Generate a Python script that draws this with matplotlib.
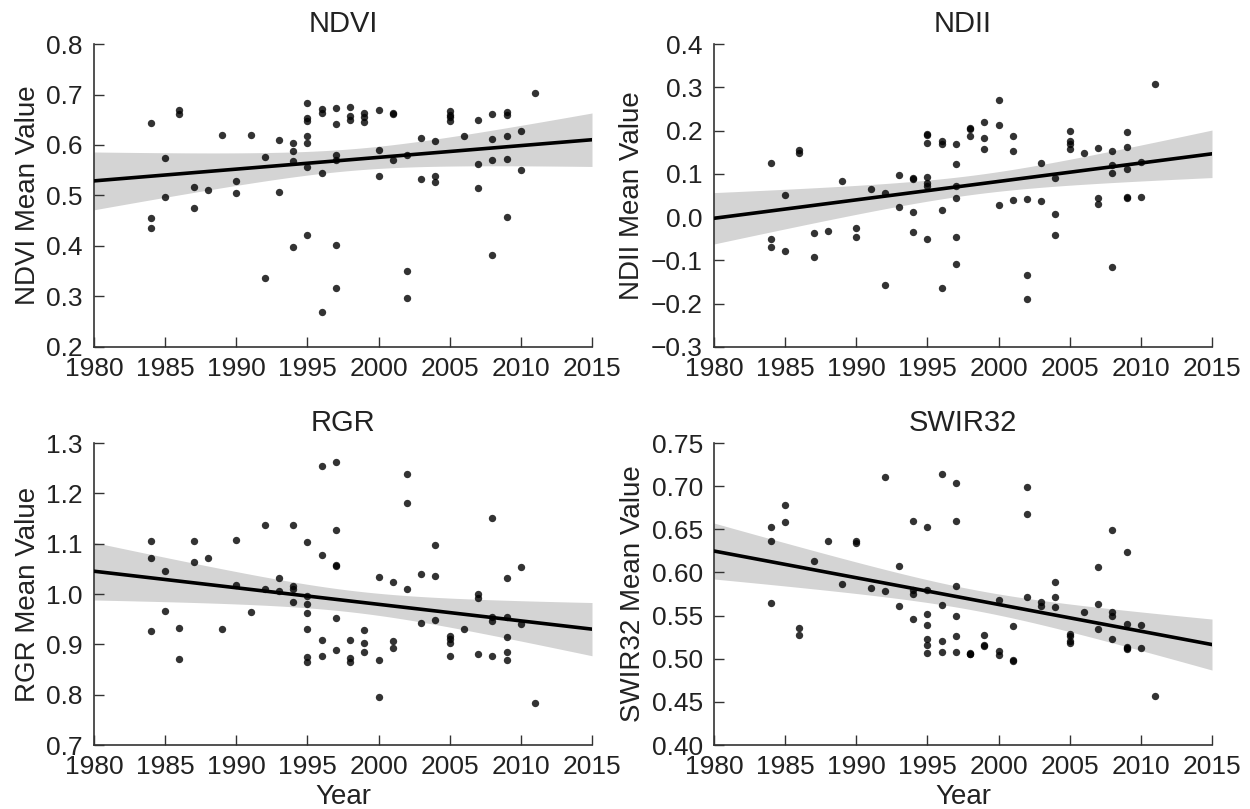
import numpy as np
import matplotlib
matplotlib.use("Agg")
import matplotlib.pyplot as plt

plt.rcParams['font.family'] = ['Liberation Sans', 'DejaVu Sans']

ndvi = {
    1984: [0.644, 0.456, 0.436], 1985: [0.575, 0.497], 1986: [0.669, 0.661],
    1987: [0.517, 0.476], 1988: [0.510], 1989: [0.620], 1990: [0.528, 0.504],
    1991: [0.620], 1992: [0.576, 0.337], 1993: [0.609, 0.506],
    1994: [0.603, 0.589, 0.569, 0.398],
    1995: [0.683, 0.653, 0.648, 0.617, 0.604, 0.557, 0.421],
    1996: [0.671, 0.663, 0.544, 0.270],
    1997: [0.673, 0.642, 0.580, 0.570, 0.401, 0.316],
    1998: [0.675, 0.658, 0.650], 1999: [0.663, 0.655, 0.646],
    2000: [0.670, 0.591, 0.539], 2001: [0.664, 0.661, 0.571],
    2002: [0.581, 0.350, 0.297], 2003: [0.613, 0.533], 2004: [0.607, 0.538, 0.526],
    2005: [0.667, 0.659, 0.655, 0.648], 2006: [0.618], 2007: [0.649, 0.563, 0.515],
    2008: [0.662, 0.611, 0.570, 0.382], 2009: [0.665, 0.659, 0.618, 0.572, 0.458],
    2010: [0.628, 0.551], 2011: [0.702],
}

ndii = {
    1984: [0.126, -0.051, -0.068], 1985: [0.050, -0.078], 1986: [0.156, 0.149],
    1987: [-0.037, -0.092], 1988: [-0.032], 1989: [0.083], 1990: [-0.026, -0.046],
    1991: [0.064], 1992: [0.055, -0.157], 1993: [0.098, 0.024],
    1994: [0.090, 0.088, 0.011, -0.035],
    1995: [0.193, 0.189, 0.172, 0.093, 0.078, 0.071, -0.050],
    1996: [0.177, 0.170, 0.017, -0.164],
    1997: [0.169, 0.122, 0.072, 0.044, -0.047, -0.108],
    1998: [0.206, 0.203, 0.187], 1999: [0.220, 0.183, 0.157],
    2000: [0.270, 0.213, 0.028], 2001: [0.188, 0.153, 0.040],
    2002: [0.041, -0.133, -0.190], 2003: [0.125, 0.037], 2004: [0.091, 0.008, -0.042],
    2005: [0.199, 0.177, 0.169, 0.158], 2006: [0.148], 2007: [0.160, 0.044, 0.030],
    2008: [0.153, 0.121, 0.103, -0.115], 2009: [0.197, 0.161, 0.112, 0.046, 0.044],
    2010: [0.128, 0.047], 2011: [0.308],
}

rgr = {
    1984: [1.105, 1.072, 0.927], 1985: [1.045, 0.966], 1986: [0.932, 0.871],
    1987: [1.106, 1.064], 1988: [1.071], 1989: [0.930], 1990: [1.107, 1.017],
    1991: [0.964], 1992: [1.138, 1.009], 1993: [1.032, 1.005],
    1994: [1.138, 1.015, 1.009, 0.985],
    1995: [1.103, 0.996, 0.981, 0.963, 0.930, 0.874, 0.864],
    1996: [1.254, 1.078, 0.908, 0.876],
    1997: [1.262, 1.128, 1.058, 1.056, 0.952, 0.889],
    1998: [0.909, 0.872, 0.864], 1999: [0.928, 0.903, 0.885],
    2000: [1.033, 0.868, 0.796], 2001: [1.023, 0.906, 0.893],
    2002: [1.238, 1.181, 1.010], 2003: [1.039, 0.943], 2004: [1.098, 1.035, 0.948],
    2005: [0.917, 0.910, 0.903, 0.877], 2006: [0.930], 2007: [1.000, 0.992, 0.881],
    2008: [1.152, 0.954, 0.946, 0.877], 2009: [1.032, 0.954, 0.914, 0.885, 0.869],
    2010: [1.053, 0.941], 2011: [0.783],
}

swir32 = {
    1984: [0.653, 0.637, 0.564], 1985: [0.678, 0.658], 1986: [0.536, 0.528],
    1987: [0.613], 1988: [0.636], 1989: [0.587], 1990: [0.636, 0.634],
    1991: [0.582], 1992: [0.711, 0.578], 1993: [0.608, 0.561],
    1994: [0.660, 0.580, 0.575, 0.546],
    1995: [0.653, 0.580, 0.552, 0.539, 0.523, 0.516, 0.507],
    1996: [0.714, 0.562, 0.520, 0.508],
    1997: [0.704, 0.660, 0.584, 0.550, 0.526, 0.508],
    1998: [0.507, 0.506, 0.505], 1999: [0.527, 0.516, 0.515],
    2000: [0.568, 0.509, 0.504], 2001: [0.538, 0.498, 0.497],
    2002: [0.699, 0.668, 0.572], 2003: [0.566, 0.561], 2004: [0.589, 0.572, 0.560],
    2005: [0.529, 0.526, 0.521, 0.518], 2006: [0.554], 2007: [0.606, 0.563, 0.534],
    2008: [0.649, 0.554, 0.549, 0.523], 2009: [0.624, 0.540, 0.514, 0.512, 0.511],
    2010: [0.539, 0.512], 2011: [0.457],
}

titles = ["NDVI", "NDII", "RGR", "SWIR32"]
datasets = [ndvi, ndii, rgr, swir32]
ylims = [(0.2, 0.8), (-0.3, 0.4), (0.7, 1.3), (0.40, 0.75)]
yticks = [np.arange(0.2, 0.81, 0.1), np.arange(-0.3, 0.41, 0.1),
          np.arange(0.7, 1.31, 0.1), np.arange(0.40, 0.751, 0.05)]
yfmt = ["{:.1f}", "{:.1f}", "{:.1f}", "{:.2f}"]
xticks = [1980, 1985, 1990, 1995, 2000, 2005, 2010, 2015]

fig = plt.figure(figsize=(12.5, 8.09), dpi=100)
positions = [
    [0.0752, 0.5711, 0.3984, 0.3745],
    [0.5712, 0.5711, 0.3984, 0.3745],
    [0.0752, 0.0791, 0.3984, 0.3733],
    [0.5712, 0.0791, 0.3984, 0.3733],
]

FS = 19
txtc = '#222222'
for i, (title, d) in enumerate(zip(titles, datasets)):
    ax = fig.add_axes(positions[i])
    xs, ys = [], []
    for yr, vals in d.items():
        for v in vals:
            xs.append(yr)
            ys.append(v)
    x = np.array(xs, float)
    y = np.array(ys, float)
    ax.scatter(x, y, s=28, color='black', alpha=0.8, linewidths=0, zorder=3)

    # linear fit with 95% confidence band
    n = len(x)
    b, a = np.polyfit(x, y, 1)
    grid = np.linspace(1980, 2015, 200)
    pred = a + b * grid
    resid = y - (a + b * x)
    s = np.sqrt(np.sum(resid ** 2) / (n - 2))
    sxx = np.sum((x - x.mean()) ** 2)
    se = s * np.sqrt(1.0 / n + (grid - x.mean()) ** 2 / sxx)
    t = 1.9
    ax.fill_between(grid, pred - t * se, pred + t * se, color='#d4d4d4', linewidth=0, zorder=1)
    ax.plot(grid, pred, color='black', lw=2.6, zorder=4)

    ax.set_xlim(1980, 2015)
    ax.set_ylim(*ylims[i])
    ax.set_xticks(xticks)
    ax.set_yticks(yticks[i])
    ax.set_yticklabels([yfmt[i].format(v).replace('-', '\u2212') for v in yticks[i]])
    for sp in ['top', 'right']:
        ax.spines[sp].set_visible(False)
    for sp in ['left', 'bottom']:
        ax.spines[sp].set_color('#333333')
        ax.spines[sp].set_linewidth(1.2)
    ax.tick_params(direction='in', length=7, width=1, colors='#333333',
                   labelsize=FS, labelcolor=txtc)
    ax.tick_params(axis='x', pad=7)
    ax.tick_params(axis='y', pad=8)
    ax.set_title(title, fontsize=FS + 2, color=txtc, pad=9)
    ax.set_ylabel(f"{title} Mean Value", fontsize=FS + 1, color=txtc, labelpad=4)
    if i >= 2:
        ax.set_xlabel("Year", fontsize=FS + 1, color=txtc, labelpad=4)

fig.savefig("out.png", dpi=100)
